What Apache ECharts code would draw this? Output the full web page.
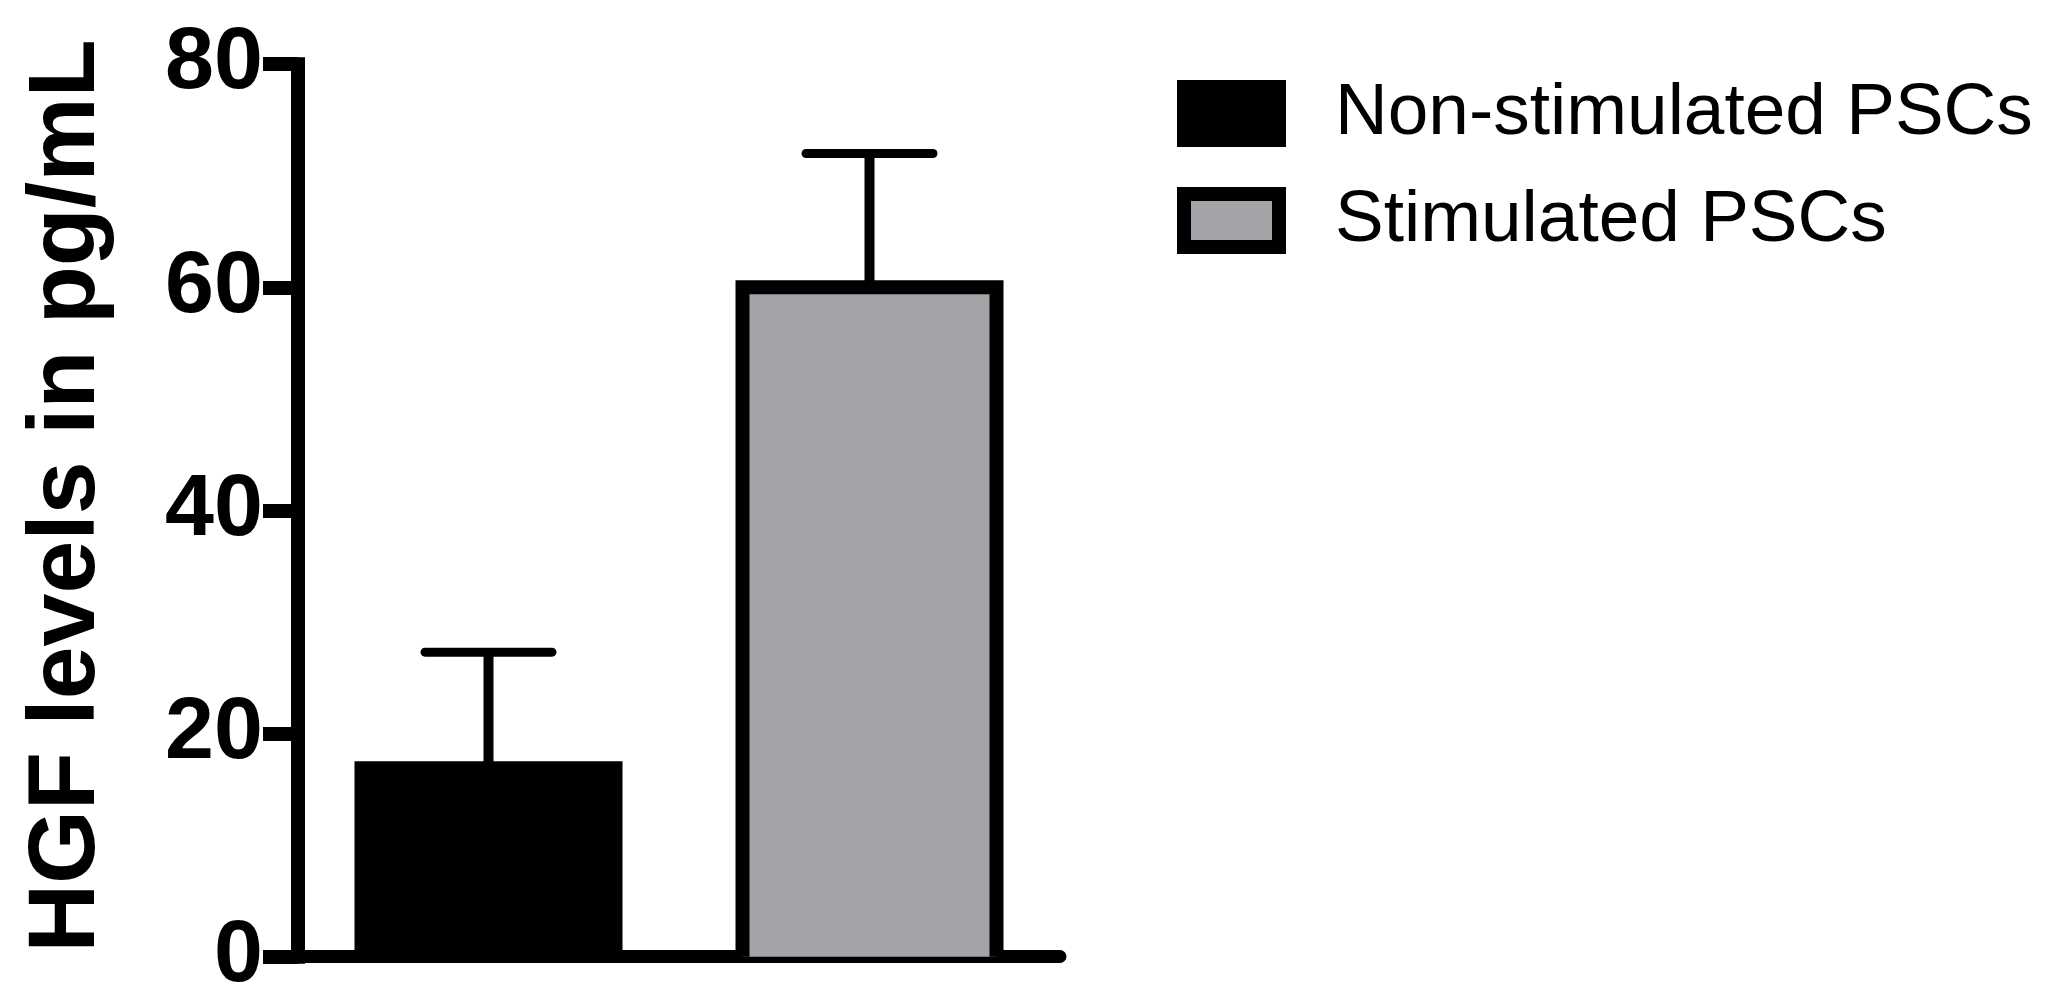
<!DOCTYPE html>
<html>
<head>
<meta charset="utf-8">
<script src="https://cdn.jsdelivr.net/npm/echarts@6/dist/echarts.min.js"></script>
<style>
html,body{margin:0;padding:0;background:#fff;}
#chart{width:2056px;height:1004px;}
</style>
</head>
<body>
<div id="chart"></div>
<script>
const categories = ['Non-stimulated PSCs', 'Stimulated PSCs'];
const means = [16.9, 60];
const errors = [10.4, 12];
const yMin = 0, yMax = 80, yInterval = 20;
const yTitle = 'HGF levels in pg/mL';
const barColors = ['#000000', '#a3a4a8'];

const FONT = '"Liberation Sans", Arial, Helvetica, sans-serif';
const BAR_W = 254;

const chart = echarts.init(document.getElementById('chart'), null, {renderer: 'canvas'});

const barSeries = categories.map((name, i) => ({
  name: name,
  type: 'bar',
  barWidth: BAR_W,
  barGap: '-100%',
  data: categories.map((c, j) => (j === i ? means[j] : '-')),
  itemStyle: {color: barColors[i], borderWidth: 0},
  z: 2
}));

const barData = categories.map((c, i) => [i, means[i]]);
const errData = categories.map((c, i) => [i, means[i], errors[i]]);

const option = {
  animation: false,
  backgroundColor: '#fff',
  grid: {left: 298, right: 996, top: 64.2, bottom: 47.3, containLabel: false},
  legend: {
    data: categories,
    orient: 'vertical',
    left: 1177,
    top: 77,
    padding: 0,
    itemGap: 34,
    itemWidth: 95,
    itemHeight: 53,
    icon: 'rect',
    itemStyle: {borderColor: '#000', borderWidth: 14},
    textStyle: {fontFamily: FONT, fontSize: 73, color: '#000', padding: [0, 0, 0, 51]}
  },
  xAxis: {
    type: 'category',
    data: categories,
    boundaryGap: true,
    axisLine: {show: true, lineStyle: {color: '#000', width: 13}},
    axisTick: {show: false},
    axisLabel: {show: false},
    splitLine: {show: false}
  },
  yAxis: {
    type: 'value',
    min: yMin,
    max: yMax,
    interval: yInterval,
    name: yTitle,
    nameLocation: 'middle',
    nameRotate: 90,
    nameGap: 183,
    nameTextStyle: {fontFamily: FONT, fontSize: 95, fontWeight: 'bold', color: '#000', padding: [0, 0, 0, 29]},
    axisLine: {show: true, lineStyle: {color: '#000', width: 14, cap: 'square'}},
    axisTick: {show: true, length: 35, lineStyle: {color: '#000', width: 14}},
    axisLabel: {fontFamily: FONT, fontSize: 88, fontWeight: 'bold', color: '#000', margin: 35},
    splitLine: {show: false}
  },
  series: barSeries.concat([{
    name: 'outline',
    type: 'custom',
    z: 3,
    data: barData,
    encode: {x: 0, y: 1},
    renderItem: function (params, api) {
      const i = api.value(0), m = api.value(1);
      const b = api.coord([i, 0]);
      const t = api.coord([i, m]);
      const hw = BAR_W / 2;
      return {
        type: 'polyline',
        shape: {points: [[b[0] - hw, b[1]], [b[0] - hw, t[1]], [b[0] + hw, t[1]], [b[0] + hw, b[1]]]},
        style: {stroke: '#000', lineWidth: 14, fill: null, lineJoin: 'miter'}
      };
    }
  }, {
    name: 'error',
    type: 'custom',
    z: 4,
    data: errData,
    encode: {x: 0, y: 1},
    renderItem: function (params, api) {
      const i = api.value(0), m = api.value(1), e = api.value(2);
      const base = api.coord([i, m]);
      const top = api.coord([i, m + e]);
      return {
        type: 'group',
        children: [
          {type: 'line', shape: {x1: base[0], y1: base[1], x2: top[0], y2: top[1]},
           style: {stroke: '#000', lineWidth: 10}},
          {type: 'line', shape: {x1: top[0] - 63.5, y1: top[1], x2: top[0] + 63.5, y2: top[1]},
           style: {stroke: '#000', lineWidth: 9, lineCap: 'round'}}
        ]
      };
    }
  }])
};

chart.setOption(option);
</script>
</body>
</html>
